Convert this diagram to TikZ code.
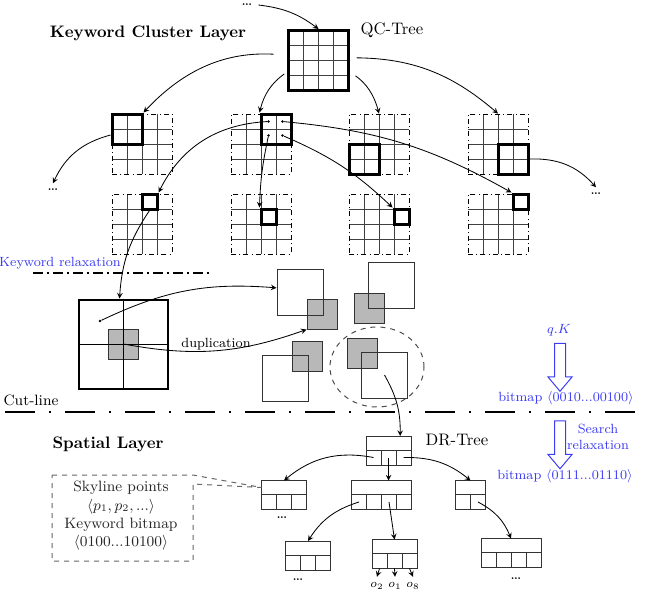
\documentclass[tikz,border=0pt]{standalone}
\usepackage{amsmath}
\usepackage{amssymb}
\usetikzlibrary{shapes.geometric, shapes.arrows, arrows, positioning, calc}

\definecolor{relblue}{RGB}{60,60,245}

\begin{document}
\begin{tikzpicture}[x=0.6pt, y=-0.6pt,
    arrow/.style={->, >=stealth, line width=0.5pt},
    frame/.style={rectangle, draw, dash dot, line width=0.5pt, minimum size=36pt, inner sep=0pt},
    hot/.style={rectangle, draw, line width=1.8pt, inner sep=0pt},
    cellline/.style={black!75, line width=0.5pt},
    dot/.style={circle, fill, inner sep=0pt, minimum size=1.6pt},
    mbr/.style={rectangle, draw=black!80, line width=0.6pt, minimum size=27.6pt, inner sep=0pt},
    mbrgray/.style={rectangle, draw=black!80, fill=black!28, line width=0.6pt, minimum size=18pt, inner sep=0pt},
    drtop/.style={rectangle, draw=black!80, line width=0.6pt, minimum height=8.4pt, inner sep=0pt, outer sep=0pt},
    drcell/.style={rectangle, draw=black!80, line width=0.6pt, minimum width=9pt, minimum height=9pt, inner sep=0pt, outer sep=0pt},
    hint/.style={text=relblue, font=\footnotesize},
    fat/.style={single arrow, draw=relblue, line width=0.6pt, rotate=-90, minimum height=28.8pt, minimum width=13.8pt, inner sep=3pt, single arrow head extend=3.9pt, single arrow tip angle=80}
]
\useasboundingbox (0,0) rectangle (647,591);

% keyword cluster layer
\node[font=\bfseries] (kcl) at (148,33) {Keyword Cluster Layer};
\node (qclabel) at (392,30) {QC-Tree};
\node (topdots) at (247,5) {\ldots};

\foreach \k in {15,30,45} {
  \draw[cellline] (288.5+\k,30.5) -- (288.5+\k,90.5);
  \draw[cellline] (288.5,30.5+\k) -- (348.5,30.5+\k);
}
\node[hot, minimum size=36pt] (qc) at (318.5,60.5) {};

\foreach \gx/\gy/\nm in {112/114/gA, 231/114/gB, 349/114/gC, 468/114/gD, 112/194/hA, 231/194/hB, 349/194/hC, 468/194/hD} {
  \foreach \k in {15,30,45} {
    \draw[cellline] (\gx+\k,\gy) -- (\gx+\k,\gy+60);
    \draw[cellline] (\gx,\gy+\k) -- (\gx+60,\gy+\k);
  }
  \node[frame] (\nm) at (\gx+30,\gy+30) {};
}

\node[hot, minimum size=18pt] (kA) at (127,129) {};
\node[hot, minimum size=18pt] (kB) at (276,129) {};
\node[hot, minimum size=18pt] (kC) at (364,159) {};
\node[hot, minimum size=18pt] (kD) at (513,159) {};
\node[hot, minimum size=9pt] (mA) at (149.5,201.5) {};
\node[hot, minimum size=9pt] (mB) at (268.5,216.5) {};
\node[hot, minimum size=9pt] (mC) at (401.5,216.5) {};
\node[hot, minimum size=9pt] (mD) at (520.5,201.5) {};

\node[dot] (b11) at (268.5,121.5) {};
\node[dot] (b12) at (282.5,121.5) {};
\node[dot] (b21) at (268.5,135.5) {};
\node[dot] (b22) at (282.5,135.5) {};

\node (ldots) at (53,190) {\ldots};
\node (rdots) at (596,194) {\ldots};

\draw[arrow] (topdots.east) to[bend left=15] (qc.north);
\draw[arrow, shorten <=8pt] (qc.170) to[bend right=25] (kA.north east);
\draw[arrow, shorten <=2pt] (qc.200) to[bend right=20] (kB.north west);
\draw[arrow, shorten <=4pt] (qc.-20) to[bend left=20] (gC.north);
\draw[arrow, shorten <=4pt] (qc.5) to[bend left=20] (gD.north);
\draw[arrow] (kA.200) to[bend right=25] (ldots.north);
\draw[arrow] (kD.east) to[bend left=25] (rdots.north);
\draw[arrow] (b11) to[bend right=30] (mA.north east);
\draw[arrow] (b21) to[bend right=5] (mB.north west);
\draw[arrow] (b12) to[bend left=12] (mD.north west);
\draw[arrow] (b22) to[bend left=10] (mC.north west);

% relaxation and duplication
\node[hint] (kwrel) at (60,263) {Keyword relaxation};
\draw[line width=1pt, dash pattern=on 6pt off 2.5pt on 1pt off 2.5pt] (33,273) -- (212,273);

\node[rectangle, draw, line width=1.2pt, minimum size=53.4pt, inner sep=0pt] (big) at (123.5,344) {};
\node[mbrgray] (core) at (123.5,344) {};
\draw[line width=0.5pt] (big.north) -- (big.south);
\draw[line width=0.5pt] (big.west) -- (big.east);
\node[dot] (seed) at (100,321) {};

\node[mbrgray] (g1) at (322,314) {};
\node[mbr] (w1) at (300,292) {};
\node[mbrgray] (g2) at (369.5,308) {};
\node[mbr] (w2) at (391.5,285.5) {};
\node[mbrgray] (g3) at (307,356) {};
\node[mbr] (w3) at (285,378.5) {};
\node[mbrgray] (g4) at (362,353) {};
\node[mbr] (w4) at (384.5,375) {};
\node[ellipse, draw=black!70, dashed, line width=0.6pt, minimum width=56.4pt, minimum height=48pt] (cand) at (377,367) {};

\node[font=\footnotesize] (dup) at (216,344) {duplication};

\draw[arrow] (mA.south) to[bend right=15] (big.95);
\draw[arrow] (seed) to[bend left=15] (w1.170);
\draw[arrow] (core.center) to[bend right=15] (g1.south west);

% cut-line
\node[font=\small] (cut) at (31,400) {Cut-line};
\draw[line width=1.2pt, dash pattern=on 18pt off 8.4pt on 1.2pt off 8.4pt] (5,412) -- (647,412);

% query bitmaps
\node[hint] (qk) at (559,330) {$q.K$};
\node[fat] (down1) at (560,364) {};
\node[hint] (bm1) at (566,398) {bitmap $\langle$0010...00100$\rangle$};
\node[fat] (down2) at (560,441.5) {};
\node[hint, align=center] (srel) at (598,437) {Search\\relaxation};
\node[hint] (bm2) at (565,476) {bitmap $\langle$0111...01110$\rangle$};

% spatial layer
\node[font=\bfseries] (spl) at (108,444) {Spatial Layer};
\node (drl) at (457,440) {DR-Tree};

\foreach \nm/\px/\py/\n in {dr/388.5/443/3, dl/284/487.5/3, dm/381.5/487.5/4, drt/470.5/487.5/2, dll/308/548/3, dlm/394.5/546.5/3, dlr/511/545.5/4} {
  \node[drtop, minimum width=\n*9pt] (\nm) at (\px,\py) {};
  \foreach \i in {1,...,\n}
    \node[drcell, anchor=north west] (\nm-\i) at ([xshift={(\i-1)*9pt}]\nm.south west) {};
}

\node (dldots) at (282,518) {\ldots};
\node (dlldots) at (298,580) {\ldots};
\node (dlrdots) at (516,579) {\ldots};

\node[font=\scriptsize] (o2) at (377,586) {$o_2$};
\node[font=\scriptsize] (o1) at (395,586) {$o_1$};
\node[font=\scriptsize] (o8) at (413,586) {$o_8$};

\draw[arrow] (w4.center) to[bend left=15] ([xshift=7pt]dr.north);
\draw[arrow] (dr-1.center) to[bend right=25] (dl.north);
\draw[arrow] (dr-2.center) -- (dr-2.center |- dm.north);
\draw[arrow] (dr-3.center) to[bend left=20] (drt.north);
\draw[arrow] (dm-1.center) to[bend right=20] (dll.north);
\draw[arrow] (dm-3.center) -- (dlm.north);
\draw[arrow] (drt-2.center) to[bend left=20] (dlr.north);
\draw[arrow] (dlm-1.south) -- (o2.north);
\draw[arrow] (dlm-2.south) -- (o1.north);
\draw[arrow] (dlm-3.south) -- (o8.north);

\draw[dashed, black!60, line width=0.6pt] (52,475) -- (193,475) -- (dl.west) -- (193,484) -- (193,561) -- (52,561) -- cycle;
\node[font=\small, text=black!85, align=center] (skyinfo) at (121,516) {Skyline points\\$\langle p_1, p_2, ...\rangle$\\Keyword bitmap\\$\langle$0100...10100$\rangle$};

\end{tikzpicture}
\end{document}
